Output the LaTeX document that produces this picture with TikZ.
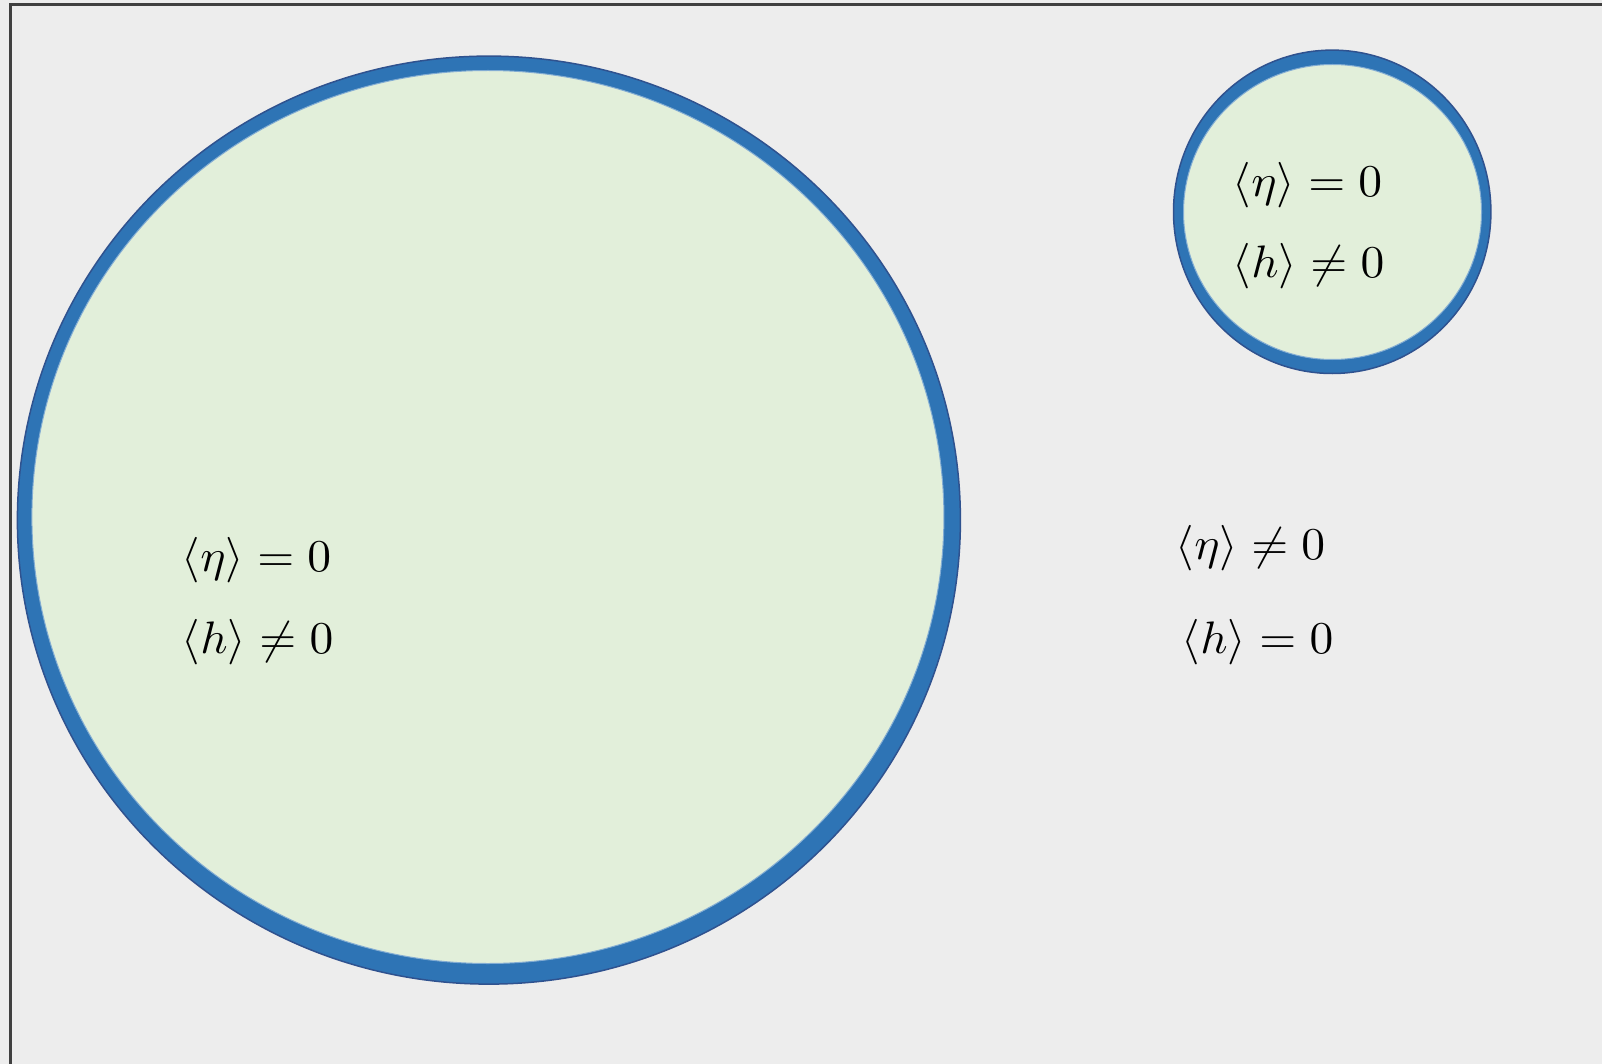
\documentclass[tikz,border=0pt]{standalone}
\usepackage{amsmath,amssymb}
\usepackage{xcolor}
\usepackage{tikz}
\definecolor{bggray}{HTML}{EDEDED}
\definecolor{ringblue}{HTML}{2E74B5}
\definecolor{ringedge}{HTML}{2F528F}
\definecolor{coregreen}{HTML}{E2EFDA}

\begin{document}
\begin{tikzpicture}[x=1pt,y=-1pt,
  ring/.style={fill=ringblue,draw=ringedge,line width=1.5pt},
  core/.style={fill=coregreen,draw=ringblue!60!white,line width=1pt},
  cond/.style={anchor=base west,inner sep=0pt,xscale=4.75,yscale=4.55}]
  \useasboundingbox (0,0) rectangle (1602,1064);
  \clip (0,0) rectangle (1602,1064);
  \fill[bggray] (0,0) rectangle (1602,1064);
  \draw[line width=3pt,draw=black!75] (10.8,1100) |- (1700,4.2);
  % large phase region
  \path[ring] (488.9,520.1) ellipse [x radius=471.5pt,y radius=464pt];
  \path[core] (487.9,517) ellipse [x radius=456pt,y radius=446.5pt];
  % small phase region
  \path[ring] (1332.2,211.8) ellipse [x radius=158.7pt,y radius=161.7pt];
  \path[core] (1332.5,212) ellipse [x radius=149pt,y radius=147.5pt];
  % conditions
  \node[cond] (bigeta) at (181,571) {$\langle\eta\rangle = 0$};
  \node[cond] (bigh) at (181,653) {$\langle h\rangle \neq 0$};
  \node[cond] (smalleta) at (1232,197) {$\langle\eta\rangle = 0$};
  \node[cond] (smallh) at (1232,278) {$\langle h\rangle \neq 0$};
  \node[cond] (outeta) at (1175,559) {$\langle\eta\rangle \neq 0$};
  \node[cond] (outh) at (1181,653) {$\langle h\rangle = 0$};
\end{tikzpicture}
\end{document}
